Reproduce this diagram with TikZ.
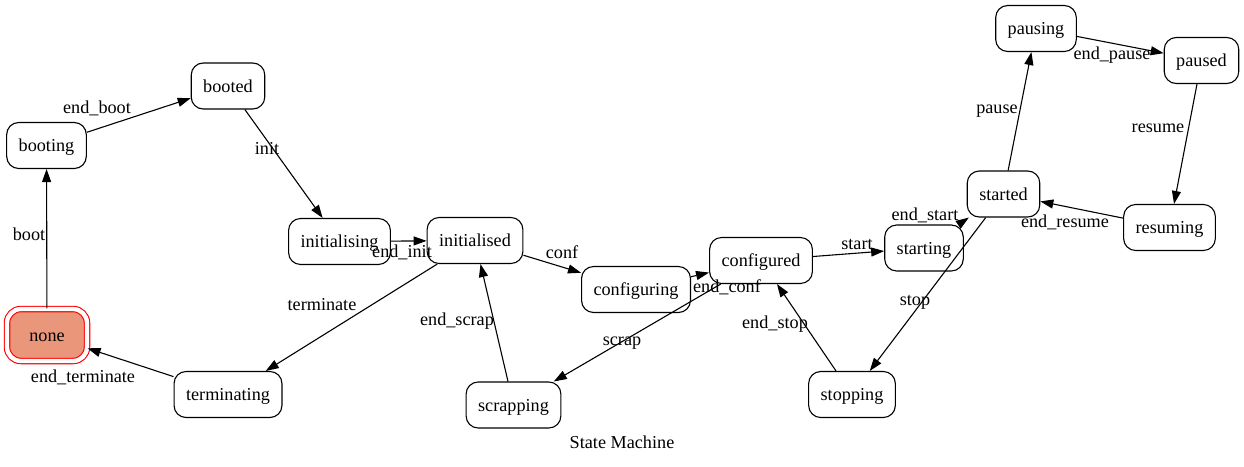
\documentclass[tikz,border=0pt]{standalone}
\usepackage{fontspec}
\setmainfont{Liberation Serif}
\usetikzlibrary{arrows.meta}
\definecolor{salmonfill}{RGB}{233,150,122}
\begin{document}
\begin{tikzpicture}[x=1pt,y=-1pt,
  every node/.style={font=\fontsize{18.2}{22}\selectfont, text height=12pt, text depth=4pt},
  state/.style={draw, line width=1.1pt, rounded corners=12pt, inner xsep=12pt, minimum height=46pt, text height=13pt, text depth=1pt},
  initstate/.style={draw=red, line width=1.1pt, double=white, double distance=4.3pt, fill=salmonfill, rounded corners=14pt, minimum width=80pt, minimum height=52pt, text height=13pt, text depth=1pt},
  edge/.style={line width=1.1pt, -{Triangle[length=13pt,width=9pt]}},
  lbl/.style={inner sep=0pt}]
\useasboundingbox (0,0) rectangle (1244,466);
% nodes
\node[initstate] (none) at (47,335) {none};
\node[state] (booting) at (46.5,145.5) {booting};
\node[state] (booted) at (228,86) {booted};
\node[state] (initialising) at (339.5,241.5) {initialising};
\node[state] (initialised) at (475,240.5) {initialised};
\node[state] (configuring) at (636,289.5) {configuring};
\node[state] (configured) at (761,260.5) {configured};
\node[state] (starting) at (924,248) {starting};
\node[state] (started) at (1003.5,194) {started};
\node[state] (pausing) at (1036,28.5) {pausing};
\node[state] (paused) at (1201.5,60.5) {paused};
\node[state] (resuming) at (1169.5,227.5) {resuming};
\node[state] (stopping) at (852,394.5) {stopping};
\node[state] (scrapping) at (513.5,405) {scrapping};
\node[state] (terminating) at (228,394.5) {terminating};
% edges
\draw[edge] (none) -- (booting);
\draw[edge] (booting) -- (booted);
\draw[edge] (booted) -- (initialising);
\draw[edge] (initialising) -- (initialised);
\draw[edge] (initialised) -- (configuring);
\draw[edge] (configuring) -- (configured);
\draw[edge] (configured) -- (starting);
\draw[edge] (starting) -- (started);
\draw[edge] (started) -- (pausing);
\draw[edge] (pausing) -- (paused);
\draw[edge] (paused) -- (resuming);
\draw[edge] (resuming) -- (started);
\draw[edge] (started) -- (stopping);
\draw[edge] (stopping) -- (configured);
\draw[edge] (configured) -- (scrapping);
\draw[edge] (scrapping) -- (initialised);
\draw[edge] (initialised) -- (terminating);
\draw[edge] (terminating) -- (none);
% labels
\node[lbl] (l1) at (29,236) {boot};
\node[lbl] (l2) at (97,109) {end\_boot};
\node[lbl] (l3) at (267,150) {init};
\node[lbl] (l4) at (402,253) {end\_init};
\node[lbl] (l5) at (562,254) {conf};
\node[lbl] (l6) at (727,288) {end\_conf};
\node[lbl] (l7) at (857,245) {start};
\node[lbl] (l8) at (925,216) {end\_start};
\node[lbl] (l9) at (997,109) {pause};
\node[lbl] (l10) at (1112,55) {end\_pause};
\node[lbl] (l11) at (1158,128) {resume};
\node[lbl] (l12) at (1065,223) {end\_resume};
\node[lbl] (l13) at (915,301) {stop};
\node[lbl] (l14) at (775,324) {end\_stop};
\node[lbl] (l15) at (622,341) {scrap};
\node[lbl] (l16) at (457,321) {end\_scrap};
\node[lbl] (l17) at (322,306) {terminate};
\node[lbl] (l18) at (83,378) {end\_terminate};
\node[lbl] (title) at (622,444) {State Machine};
\end{tikzpicture}
\end{document}
